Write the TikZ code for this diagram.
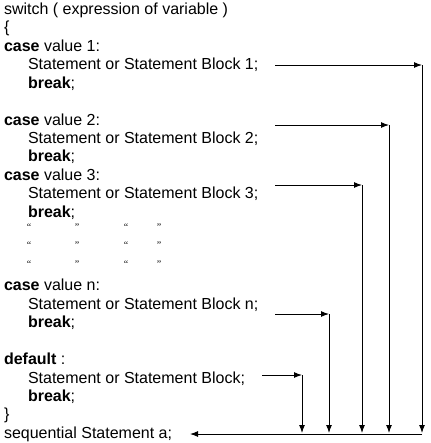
\documentclass[tikz,border=0pt]{standalone}
\usepackage{fontspec}
\setmainfont{Liberation Sans}
\newfontfamily\qfont{Liberation Serif}
\usetikzlibrary{arrows.meta}
\begin{document}
\begin{tikzpicture}[x=0.75pt,y=-0.75pt,
  line/.style={anchor=base west,inner sep=0pt,outer sep=0pt,font=\fontsize{12}{14}\selectfont},
  qt/.style={anchor=base,inner sep=0pt,font=\qfont\fontsize{7.5}{9}\selectfont},
  conn/.style={line width=0.75pt,-{Latex[length=6pt,width=4.5pt]}},
  plain/.style={line width=0.75pt}]
\useasboundingbox (0,0) rectangle (431,443);
\def\B#1{14.5+18.43*#1}
\node[line] (l0) at (4,{\B{0}}) {switch ( expression of variable )};
\node[line] (l1) at (4,{\B{1}}) {\{};
\node[line] (c1) at (4,{\B{2}}) {\textbf{case} value 1:};
\node[line] (s1) at (28,{\B{3}}) {Statement or Statement Block 1;};
\node[line] (b1) at (28,{\B{4}}) {\textbf{break};};
\node[line] (c2) at (4,{\B{6}}) {\textbf{case} value 2:};
\node[line] (s2) at (28,{\B{7}}) {Statement or Statement Block 2;};
\node[line] (b2) at (28,{\B{8}}) {\textbf{break};};
\node[line] (c3) at (4,{\B{9}}) {\textbf{case} value 3:};
\node[line] (s3) at (28,{\B{10}}) {Statement or Statement Block 3;};
\node[line] (b3) at (28,{\B{11}}) {\textbf{break};};
\foreach \r/\yy in {1/230.5,2/248.8,3/267.2}{
  \node[qt] (qa\r) at (29,\yy) {“};
  \node[qt] (qb\r) at (77,\yy) {”};
  \node[qt] (qc\r) at (126,\yy) {“};
  \node[qt] (qd\r) at (159,\yy) {”};
}
\node[line] (cn) at (4,{\B{15}}) {\textbf{case} value n:};
\node[line] (sn) at (28,{\B{16}}) {Statement or Statement Block n;};
\node[line] (bn) at (28,{\B{17}}) {\textbf{break};};
\node[line] (cd) at (4,{\B{19}}) {\textbf{default} :};
\node[line] (sd) at (28,{\B{20}}) {Statement or Statement Block;};
\node[line] (bd) at (28,{\B{21}}) {\textbf{break};};
\node[line] (l22) at (4,{\B{22}}) {\}};
\node[line] (sa) at (4,{\B{23}}) {sequential Statement a;};
% arrow coordinates
\coordinate (a1) at (275,65);  \coordinate (k1) at (422,65);  \coordinate (e1) at (422,433);
\coordinate (a2) at (275,125); \coordinate (k2) at (389,125); \coordinate (e2) at (389,433);
\coordinate (a3) at (275,185); \coordinate (k3) at (362,185); \coordinate (e3) at (362,433);
\coordinate (an) at (275,314); \coordinate (kn) at (329,314); \coordinate (en) at (329,433);
\coordinate (ad) at (262,375); \coordinate (kd) at (302,375); \coordinate (ed) at (302,433);
\coordinate (r) at (422,434);  \coordinate (t) at (190,434);
\foreach \i in {1,2,3,n,d}{
  \draw[conn] (a\i) -- (k\i);
  \draw[conn] (k\i) -- (e\i);
}
\draw[conn] (r) -- (t);
\end{tikzpicture}
\end{document}
